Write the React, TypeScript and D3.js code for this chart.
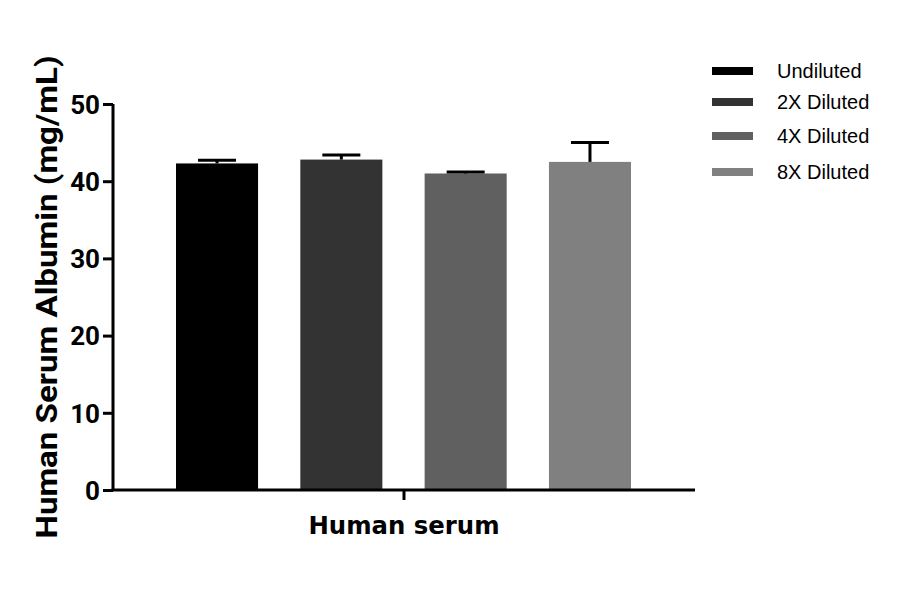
import React, { useRef, useEffect } from 'react';
import * as d3 from 'd3';

const groups = ['Human serum'];
const series = ['Undiluted', '2X Diluted', '4X Diluted', '8X Diluted'];
const means = [42.3, 42.8, 41.0, 42.5];
const errors = [0.4, 0.6, 0.2, 2.5];
const colors = ['#000000', '#333333', '#606060', '#808080'];
const yTicks = [0, 10, 20, 30, 40, 50];

const App: React.FC = () => {
    const svgRef = useRef<SVGSVGElement | null>(null);
    const width = 900;
    const height = 594;
    const margin = { top: 104, left: 113, bottom: 104, right: 205 };

    useEffect(() => {
        if (!svgRef.current) return;
        const svg = d3.select(svgRef.current);
        svg.selectAll('*').remove();

        svg.append('rect').attr('width', width).attr('height', height).attr('fill', '#fff');

        const y = d3.scaleLinear().domain([0, 50]).range([height - margin.bottom, margin.top]);

        const xGroup = d3.scaleBand().domain(groups).range([margin.left, width - margin.right]);
        const xInner = d3.scaleBand().domain(series).range([176, 631]).paddingInner(0.34);

        // Bars
        svg.selectAll('rect.bar')
            .data(series)
            .join('rect')
            .attr('class', 'bar')
            .attr('x', d => xInner(d)!)
            .attr('width', xInner.bandwidth())
            .attr('y', (_, i) => y(means[i]))
            .attr('height', (_, i) => y(0) - y(means[i]))
            .attr('fill', (_, i) => colors[i]);

        // Error bars (upper only)
        const eb = svg.append('g');
        series.forEach((s, i) => {
            const cx = xInner(s)! + xInner.bandwidth() / 2;
            eb.append('line')
                .attr('x1', cx).attr('x2', cx)
                .attr('y1', y(means[i])).attr('y2', y(means[i] + errors[i]))
                .attr('stroke', '#000').attr('stroke-width', 3);
            eb.append('line')
                .attr('x1', cx - 19).attr('x2', cx + 19)
                .attr('y1', y(means[i] + errors[i])).attr('y2', y(means[i] + errors[i]))
                .attr('stroke', '#000').attr('stroke-width', 3);
        });

        // Y axis
        const yAxis = svg.append('g')
            .attr('transform', `translate(${margin.left},0)`)
            .call(d3.axisLeft(y).tickValues(yTicks).tickSize(10).tickPadding(3));
        yAxis.select('.domain').attr('stroke', '#000').attr('stroke-width', 3)
            .attr('d', `M0,${y(50)}V${y(0)}`);
        yAxis.selectAll('.tick line').attr('stroke', '#000').attr('stroke-width', 3);
        yAxis.selectAll('.tick text')
            .attr('fill', '#000')
            .attr('font-family', 'Roboto, Arial, sans-serif')
            .attr('font-weight', 'bold')
            .attr('font-size', 26)
            .attr('dy', '0.36em');

        // X axis
        const xAxis = svg.append('g')
            .attr('transform', `translate(0,${y(0)})`)
            .call(d3.axisBottom(xGroup).tickSize(10).tickFormat(() => ''));
        xAxis.select('.domain').attr('stroke', '#000').attr('stroke-width', 3)
            .attr('d', `M${margin.left - 1.5},0H${width - margin.right}`);
        xAxis.selectAll('.tick line').attr('stroke', '#000').attr('stroke-width', 3);

        svg.append('text')
            .attr('x', xGroup(groups[0])! + xGroup.bandwidth() / 2)
            .attr('y', 534)
            .attr('text-anchor', 'middle')
            .attr('font-family', '"DejaVu Sans", sans-serif')
            .attr('font-weight', 'bold')
            .attr('font-size', 24)
            .attr('textLength', 191)
            .attr('lengthAdjust', 'spacingAndGlyphs')
            .text(groups[0]);

        // Y title
        svg.append('text')
            .attr('transform', `translate(57,297) rotate(-90)`)
            .attr('text-anchor', 'middle')
            .attr('font-family', 'Roboto, Arial, sans-serif')
            .attr('font-weight', 'bold')
            .attr('font-size', 29)
            .attr('textLength', 483)
            .attr('lengthAdjust', 'spacingAndGlyphs')
            .text('Human Serum Albumin (mg/mL)');

        // Legend
        const legendY = [71, 102, 136, 172];
        const legend = svg.append('g');
        series.forEach((s, i) => {
            legend.append('rect')
                .attr('x', 712).attr('y', legendY[i] - 4)
                .attr('width', 41).attr('height', 8)
                .attr('fill', colors[i]);
            legend.append('text')
                .attr('x', 777).attr('y', legendY[i])
                .attr('dy', '0.35em')
                .attr('font-family', '"Liberation Sans", Arial, sans-serif')
                .attr('font-size', 20)
                .attr('fill', '#000')
                .text(s);
        });
    }, []);

    return <svg ref={svgRef} width={width} height={height} style={{ display: 'block', margin: -8 }}></svg>;
};

export default App;
